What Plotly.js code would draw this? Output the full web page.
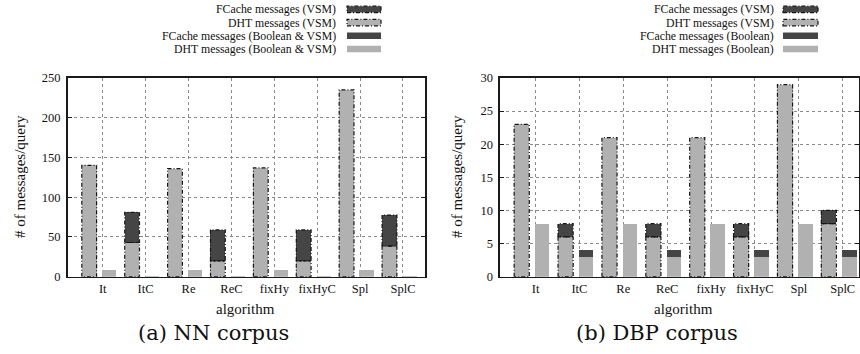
<!DOCTYPE html>
<html>
<head>
<meta charset="utf-8">
<script src="https://cdn.plot.ly/plotly-3.0.1.min.js"></script>
<style>
  html, body { margin: 0; padding: 0; background: #fff; }
  #chart { width: 860px; height: 354px; }
</style>
</head>
<body>
<div id="chart"></div>
<script>
// ---------------- data ----------------
const categories = ['It', 'ItC', 'Re', 'ReC', 'fixHy', 'fixHyC', 'Spl', 'SplC'];

// (a) NN corpus
const nnDhtVsm      = [140, 43, 136, 20, 137, 20, 235, 38.5];
const nnFcacheVsm   = [0, 38, 0, 39, 0, 39, 0, 39];
const nnDhtBool     = [8, 0.4, 8, 0.4, 8, 0.4, 8, 0.4];
const nnFcacheBool  = [0, 1.1, 0, 1.1, 0, 1.1, 0, 1.1];
const nnYTicks      = [0, 50, 100, 150, 200, 250];

// (b) DBP corpus
const dbpDhtVsm     = [23, 6, 21, 6, 21, 6, 29, 8];
const dbpFcacheVsm  = [0, 2, 0, 2, 0, 2, 0, 2];
const dbpDhtBool    = [8, 3, 8, 3, 8, 3, 8, 3];
const dbpFcacheBool = [0, 1, 0, 1, 0, 1, 0, 1];
const dbpYTicks     = [0, 5, 10, 15, 20, 25, 30];

const nnLegend  = ['FCache messages (VSM)', 'DHT messages (VSM)', 'FCache messages (Boolean & VSM)', 'DHT messages (Boolean & VSM)'];
const dbpLegend = ['FCache messages (VSM)', 'DHT messages (VSM)', 'FCache messages (Boolean)', 'DHT messages (Boolean)'];

const yTitle = '# of messages/query';
const xTitle = 'algorithm';
const captions = ['(a) NN corpus', '(b) DBP corpus'];

// ---------------- style ----------------
const W = 860, H = 354;
const px = x => x / W;
const py = y => 1 - y / H;
const DARK = '#454545';
const LIGHT = '#b1b1b1';
const SERIF = "'Liberation Serif', 'Times New Roman', serif";
const VSM_OFF = -0.315, VSM_W = 0.345;
const BOOL_OFF = 0.15, BOOL_W = 0.33;
const OUTLINE_DASH = '4px,2px,1px,2px';

const idx = categories.map((_, i) => i);

function barTrace(vals, off, w, color, xa, ya) {
  return {
    type: 'bar', x: idx.map(i => i + off), y: vals, width: w,
    marker: { color: color, line: { width: 0 } },
    xaxis: xa, yaxis: ya, showlegend: false, hoverinfo: 'skip'
  };
}

function outlineTrace(bases, heights, off, w, xa, ya) {
  const xs = [], ys = [];
  idx.forEach(i => {
    if (heights[i] <= 0) return;
    const x0 = i + off - w / 2, x1 = i + off + w / 2;
    const b = bases[i], t = bases[i] + heights[i];
    xs.push(x0, x0, x1, x1, x0, null);
    ys.push(b, t, t, b, b, null);
  });
  return {
    type: 'scatter', mode: 'lines', x: xs, y: ys,
    line: { color: '#151515', width: 1.2, dash: OUTLINE_DASH },
    xaxis: xa, yaxis: ya, showlegend: false, hoverinfo: 'skip', connectgaps: false
  };
}

function panelTraces(dhtV, fcV, dhtB, fcB, xa, ya) {
  const zeros = categories.map(() => 0);
  return [
    barTrace(dhtV, VSM_OFF, VSM_W, LIGHT, xa, ya),
    barTrace(fcV, VSM_OFF, VSM_W, DARK, xa, ya),
    barTrace(dhtB, BOOL_OFF, BOOL_W, LIGHT, xa, ya),
    barTrace(fcB, BOOL_OFF, BOOL_W, DARK, xa, ya),
    outlineTrace(zeros, dhtV, VSM_OFF, VSM_W, xa, ya),
    outlineTrace(dhtV, fcV, VSM_OFF, VSM_W, xa, ya)
  ];
}

const traces = [
  ...panelTraces(nnDhtVsm, nnFcacheVsm, nnDhtBool, nnFcacheBool, 'x', 'y'),
  ...panelTraces(dbpDhtVsm, dbpFcacheVsm, dbpDhtBool, dbpFcacheBool, 'x2', 'y2')
];

function xAxis(domain, range) {
  return {
    domain: domain, range: range,
    tickmode: 'array', tickvals: idx, ticktext: categories,
    showgrid: true, gridcolor: '#8a8a8a', griddash: 'dot', gridwidth: 1,
    showline: true, mirror: true, linecolor: '#1a1a1a', linewidth: 1.6,
    ticks: '', zeroline: false,
    tickfont: { family: SERIF, size: 12.5, color: '#111' }
  };
}
function yAxis(domain, range, ticks, anchor) {
  return {
    domain: domain, range: range, anchor: anchor,
    tickmode: 'array', tickvals: ticks,
    showgrid: true, gridcolor: '#8a8a8a', griddash: 'dot', gridwidth: 1,
    showline: true, mirror: 'ticks', linecolor: '#1a1a1a', linewidth: 1.6,
    ticks: 'inside', ticklen: 4, tickcolor: '#1a1a1a', zeroline: false,
    ticklabelstandoff: 3,
    tickfont: { family: SERIF, size: 12.5, color: '#111' }
  };
}

const yDom = [py(276.7), py(78)];
const layout = {
  width: W, height: H,
  margin: { l: 0, r: 0, t: 0, b: 0 },
  paper_bgcolor: '#fff', plot_bgcolor: '#fff',
  barmode: 'stack', bargap: 0,
  showlegend: false,
  xaxis:  Object.assign(xAxis([px(67.7), px(425)], [-0.816, 7.513]), { anchor: 'y' }),
  yaxis:  yAxis(yDom, [0, 250], nnYTicks, 'x'),
  xaxis2: Object.assign(xAxis([px(500), px(858.5)], [-0.81, 7.36]), { anchor: 'y2' }),
  yaxis2: yAxis(yDom, [0, 30], dbpYTicks, 'x2'),
  annotations: [],
  shapes: []
};

// axis titles, captions and hand-placed legend (symbols right of text, as in the reference)
const panels = [
  { cx: 246, yt: 20, cap: 213, legText: 337, sw0: 347, sw1: 381, leg: nnLegend },
  { cx: 683, yt: 457, cap: 657, legText: 775, sw0: 783, sw1: 818, leg: dbpLegend }
];
const rowsY = [9.4, 22.6, 35.8, 49.0];
panels.forEach((p, k) => {
  layout.annotations.push({
    xref: 'paper', yref: 'paper', x: px(p.cx), y: py(309), text: xTitle,
    showarrow: false, xanchor: 'center', yanchor: 'middle',
    font: { family: SERIF, size: 15, color: '#111' }
  });
  layout.annotations.push({
    xref: 'paper', yref: 'paper', x: px(p.yt), y: py(177), text: yTitle, textangle: -90,
    showarrow: false, xanchor: 'center', yanchor: 'middle',
    font: { family: SERIF, size: 15, color: '#111' }
  });
  layout.annotations.push({
    xref: 'paper', yref: 'paper', x: px(p.cap), y: py(333), text: captions[k],
    showarrow: false, xanchor: 'center', yanchor: 'middle',
    font: { family: "'DejaVu Serif', serif", size: 21, color: '#111' }
  });
  p.leg.forEach((t, r) => {
    layout.annotations.push({
      xref: 'paper', yref: 'paper', x: px(p.legText), y: py(rowsY[r]), text: t,
      showarrow: false, xanchor: 'right', yanchor: 'middle', borderpad: 0,
      font: { family: SERIF, size: 11.8, color: '#111' }
    });
    const vsm = r < 2;
    layout.shapes.push({
      type: 'rect', xref: 'paper', yref: 'paper',
      x0: px(p.sw0), x1: px(p.sw1), y0: py(rowsY[r] + 3.2), y1: py(rowsY[r] - 3.2),
      fillcolor: (r % 2 === 0) ? DARK : LIGHT,
      line: vsm ? { color: '#151515', width: 1.2, dash: OUTLINE_DASH } : { width: 0 }
    });
  });
});

Plotly.newPlot('chart', traces, layout, { staticPlot: true, displayModeBar: false });
</script>
</body>
</html>
